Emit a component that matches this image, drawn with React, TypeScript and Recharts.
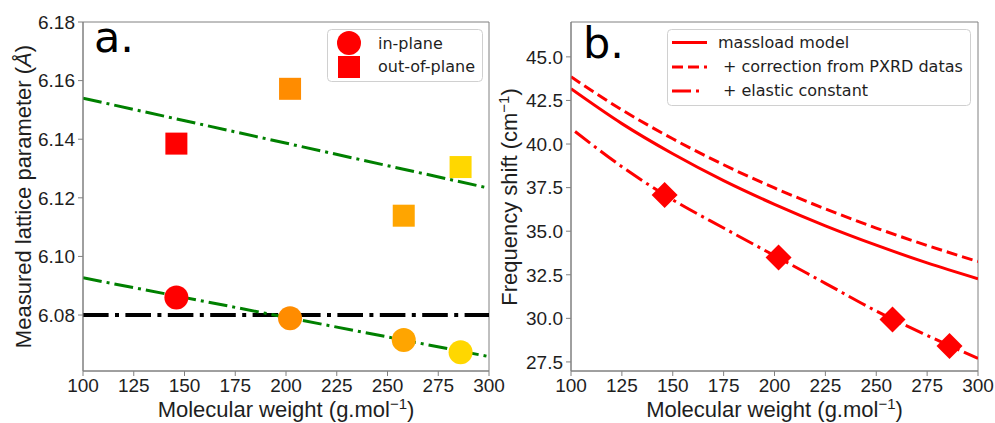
import React from 'react';
import { ComposedChart, Line, Scatter, XAxis, YAxis, ReferenceArea, Cell, Label } from 'recharts';

// ---------- data (panel a) ----------
const molecularWeight = [146, 202, 258, 286];
const inPlane = [6.086, 6.0789, 6.0715, 6.0673];
const outOfPlane = [6.1385, 6.1572, 6.1139, 6.1305];
const fitX = [100, 300];
const outOfPlaneFit = [6.154, 6.1233];
const inPlaneFit = [6.0927, 6.0658];
const referenceLattice = [6.08, 6.08];

// ---------- data (panel b) ----------
const modelX = [100, 125, 150, 175, 200, 225, 250, 275, 300];
const massloadModel = [43.17, 41.17, 39.44, 37.9, 36.54, 35.31, 34.2, 33.18, 32.27];
const pxrdCorrection = [43.86, 41.96, 40.3, 38.81, 37.48, 36.28, 35.18, 34.18, 33.26];
const elasticX = [102, 125, 150, 175, 200, 225, 250, 275, 300];
const elasticConstant = [40.72, 38.7, 36.8, 35.18, 33.6, 32.01, 30.42, 29.02, 27.7];
const measuredShift = [37.07, 33.49, 29.94, 28.42];

// ---------- ticks ----------
const xTicks = [100, 125, 150, 175, 200, 225, 250, 275, 300];
const latticeTicks = [6.08, 6.1, 6.12, 6.14, 6.16, 6.18];
const shiftTicks = [27.5, 30, 32.5, 35, 37.5, 40, 42.5, 45];

const latticeDomain = [6.0609, 6.18];
const shiftDomain = [26.98, 47.0];

// ---------- styles ----------
const pointColors = ['#ff0000', '#ff8c00', '#ffa500', '#ffd700'];
const SPINE = '#808080';
const TXT = '#1e1e1e';
const ARIAL = '"Liberation Sans", Arial, sans-serif';
const DEJAVU = '"DejaVu Sans", sans-serif';

const zip = (xs: number[], ys: number[]) => xs.map((x, i) => ({ x, y: ys[i] }));

const inPlaneData = zip(molecularWeight, inPlane);
const outOfPlaneData = zip(molecularWeight, outOfPlane);
const upperFitData = zip(fitX, outOfPlaneFit);
const lowerFitData = zip(fitX, inPlaneFit);
const refData = zip(fitX, referenceLattice);
const massloadData = zip(modelX, massloadModel);
const pxrdData = zip(modelX, pxrdCorrection);
const elasticData = zip(elasticX, elasticConstant);
const shiftData = zip(molecularWeight, measuredShift);

const tickStyle = { fill: TXT, fontSize: 19, fontFamily: ARIAL };

const CircleShape = (p: any) => <circle cx={p.cx} cy={p.cy} r={12} fill={p.fill} />;
const SquareShape = (p: any) => <rect x={p.cx - 11} y={p.cy - 11} width={22} height={22} fill={p.fill} />;
const DiamondShape = (p: any) => (
  <polygon
    points={`${p.cx},${p.cy - 13} ${p.cx + 13},${p.cy} ${p.cx},${p.cy + 13} ${p.cx - 13},${p.cy}`}
    fill="#ff0000"
  />
);

const XTitle = (cx: number) => () => (
  <text x={cx} y={417} textAnchor="middle" fill={TXT} fontSize={22} fontFamily={ARIAL}>
    <tspan>Molecular weight (g.mol</tspan>
    <tspan dy={-8} fontSize={15}>−1</tspan>
    <tspan dy={8}>)</tspan>
  </text>
);

const LeftYTitle = () => (
  <text
    x={31}
    y={196.5}
    transform="rotate(-90, 31, 196.5)"
    textAnchor="middle"
    fill={TXT}
    fontSize={22}
    fontFamily={ARIAL}
  >
    Measured lattice parameter (<tspan fontStyle="italic">Å</tspan>)
  </text>
);

const RightYTitle = () => (
  <text
    x={27}
    y={197}
    transform="rotate(-90, 27, 197)"
    textAnchor="middle"
    fill={TXT}
    fontSize={22}
    fontFamily={ARIAL}
  >
    <tspan>Frequency shift (cm</tspan>
    <tspan dy={-8} fontSize={15}>−1</tspan>
    <tspan dy={8}>)</tspan>
  </text>
);

export default function App() {
  return (
    <div style={{ position: 'absolute', left: 0, top: 0, width: 995, height: 423, background: '#fff' }}>
      {/* Panel a */}
      <div style={{ position: 'absolute', left: 0, top: 0 }}>
        <ComposedChart width={520} height={423} margin={{ top: 22, right: 31, bottom: 0, left: 0 }}>
          <XAxis
            type="number"
            dataKey="x"
            domain={[100, 300]}
            ticks={xTicks}
            interval={0}
            height={52}
            tick={tickStyle}
            tickSize={5}
            tickMargin={3}
            axisLine={{ stroke: SPINE }}
            tickLine={{ stroke: SPINE }}
            allowDataOverflow
          >
            <Label content={XTitle(286)} />
          </XAxis>
          <YAxis
            type="number"
            dataKey="y"
            domain={latticeDomain}
            ticks={latticeTicks}
            interval={0}
            width={83}
            tick={tickStyle}
            tickSize={5}
            tickMargin={3}
            tickFormatter={(v: number) => v.toFixed(2)}
            axisLine={{ stroke: SPINE }}
            tickLine={{ stroke: SPINE }}
            allowDataOverflow
          >
            <Label content={LeftYTitle} />
          </YAxis>
          <Line data={refData} dataKey="y" stroke="#000000" strokeWidth={4} strokeDasharray="25.6 6.4 4 6.4" dot={false} isAnimationActive={false} />
          <Line data={upperFitData} dataKey="y" stroke="#008000" strokeWidth={3} strokeDasharray="19 5 3 5" dot={false} isAnimationActive={false} />
          <Line data={lowerFitData} dataKey="y" stroke="#008000" strokeWidth={3} strokeDasharray="19 5 3 5" dot={false} isAnimationActive={false} />
          <Scatter data={inPlaneData} dataKey="y" shape={CircleShape} isAnimationActive={false}>
            {inPlaneData.map((_, i) => (
              <Cell key={i} fill={pointColors[i]} />
            ))}
          </Scatter>
          <Scatter data={outOfPlaneData} dataKey="y" shape={SquareShape} isAnimationActive={false}>
            {outOfPlaneData.map((_, i) => (
              <Cell key={i} fill={pointColors[i]} />
            ))}
          </Scatter>
          <ReferenceArea x1={100} x2={300} y1={latticeDomain[0]} y2={latticeDomain[1]} fill="none" stroke={SPINE} strokeWidth={1} ifOverflow="visible" />
        </ComposedChart>
      </div>

      {/* Panel b */}
      <div style={{ position: 'absolute', left: 490, top: 0 }}>
        <ComposedChart width={505} height={423} margin={{ top: 22, right: 17, bottom: 0, left: 0 }}>
          <XAxis
            type="number"
            dataKey="x"
            domain={[100, 300]}
            ticks={xTicks}
            interval={0}
            height={52}
            tick={tickStyle}
            tickSize={5}
            tickMargin={3}
            axisLine={{ stroke: SPINE }}
            tickLine={{ stroke: SPINE }}
            allowDataOverflow
          >
            <Label content={XTitle(284.5)} />
          </XAxis>
          <YAxis
            type="number"
            dataKey="y"
            domain={shiftDomain}
            ticks={shiftTicks}
            interval={0}
            width={81}
            tick={tickStyle}
            tickSize={5}
            tickMargin={3}
            tickFormatter={(v: number) => v.toFixed(1)}
            axisLine={{ stroke: SPINE }}
            tickLine={{ stroke: SPINE }}
            allowDataOverflow
          >
            <Label content={RightYTitle} />
          </YAxis>
          <Line data={massloadData} dataKey="y" type="monotone" stroke="#ff0000" strokeWidth={3} dot={false} isAnimationActive={false} />
          <Line data={pxrdData} dataKey="y" type="monotone" stroke="#ff0000" strokeWidth={3} strokeDasharray="11 5" dot={false} isAnimationActive={false} />
          <Line data={elasticData} dataKey="y" type="monotone" stroke="#ff0000" strokeWidth={3} strokeDasharray="19 5 3 5" dot={false} isAnimationActive={false} />
          <Scatter data={shiftData} dataKey="y" shape={DiamondShape} fill="#ff0000" isAnimationActive={false} />
          <ReferenceArea x1={100} x2={300} y1={shiftDomain[0]} y2={shiftDomain[1]} fill="none" stroke={SPINE} strokeWidth={1} ifOverflow="visible" />
        </ComposedChart>
      </div>

      {/* Overlay: panel letters and legends */}
      <svg width={995} height={423} style={{ position: 'absolute', left: 0, top: 0, pointerEvents: 'none' }}>
        <text x={94} y={52} fontSize={43} fontFamily={DEJAVU} fill="#000">a.</text>
        <text x={583} y={58} fontSize={43} fontFamily={DEJAVU} fill="#000">b.</text>

        {/* legend a */}
        <rect x={327.5} y={29.5} width={155} height={52} rx={4} fill="rgba(255,255,255,0.8)" stroke="#d0d0d0" />
        <circle cx={349} cy={43} r={12} fill="#ff0000" />
        <rect x={338} y={56} width={22} height={22} fill="#ff0000" />
        <text x={378} y={49} fontSize={16} fontFamily={DEJAVU} fill={TXT}>in-plane</text>
        <text x={378} y={72} fontSize={16} fontFamily={DEJAVU} fill={TXT}>out-of-plane</text>

        {/* legend b */}
        <rect x={667.5} y={29.5} width={303} height={76} rx={4} fill="rgba(255,255,255,0.8)" stroke="#d0d0d0" />
        <line x1={672} x2={707} y1={42.5} y2={42.5} stroke="#ff0000" strokeWidth={3} />
        <line x1={672} x2={707} y1={67} y2={67} stroke="#ff0000" strokeWidth={3} strokeDasharray="11 5" />
        <line x1={672} x2={701} y1={91} y2={91} stroke="#ff0000" strokeWidth={3} strokeDasharray="19 5 3 5" />
        <text x={718} y={48} fontSize={16} fontFamily={DEJAVU} fill={TXT}>massload model</text>
        <text x={723} y={72} fontSize={16} fontFamily={DEJAVU} fill={TXT}>+ correction from PXRD datas</text>
        <text x={723} y={96} fontSize={16} fontFamily={DEJAVU} fill={TXT}>+ elastic constant</text>
      </svg>
    </div>
  );
}
